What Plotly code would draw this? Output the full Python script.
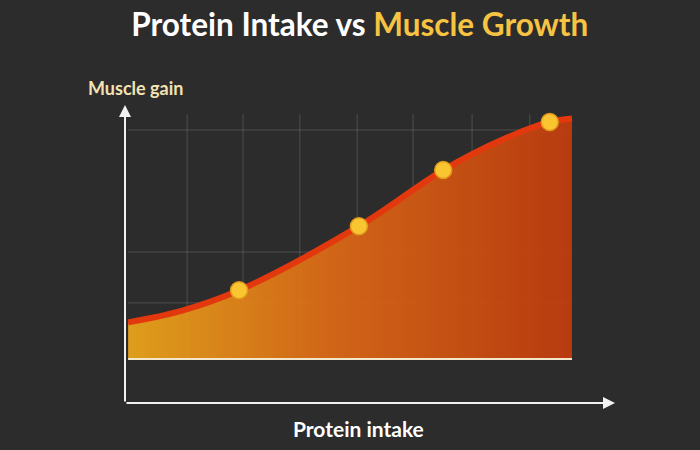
import plotly.graph_objects as go

# curve (x: protein intake, y: muscle gain, arbitrary units)
curve_x = [0, 12, 25, 52, 71, 84, 95, 100]
curve_y = [16, 21, 30, 58, 82.5, 95.5, 103.5, 105]

# highlighted points on the curve
point_x = [25, 52, 71, 95]
point_y = [30, 58, 82.5, 103.5]

# faint grid positions
grid_x = [13.3, 25.9, 38.7, 51.6, 64.2, 77.5, 90.5]
grid_y = [24.5, 46.7, 100]

x_range = [-0.7, 109.7]
y_range = [-19.2, 110.9]

BG = "#2c2c2c"
GRID = "rgba(255,255,255,0.16)"

fig = go.Figure()

# gradient area under the curve
fig.add_trace(go.Scatter(
    x=curve_x, y=curve_y, mode="lines", line=dict(width=0, shape="spline"),
    fill="tozeroy",
    fillgradient=dict(type="horizontal", colorscale=[
        [0.0, "rgba(235,166,26,0.93)"],
        [0.45, "rgba(221,106,22,0.93)"],
        [1.0, "rgba(194,60,13,0.93)"]]),
    hoverinfo="skip", showlegend=False,
))

# baseline under the fill
fig.add_trace(go.Scatter(
    x=[curve_x[0], curve_x[-1]], y=[0, 0], mode="lines",
    line=dict(color="#f4e6c8", width=2), hoverinfo="skip", showlegend=False,
))

# red curve
fig.add_trace(go.Scatter(
    x=curve_x, y=curve_y, mode="lines",
    line=dict(color="#e3380e", width=6, shape="spline"),
    hoverinfo="skip", showlegend=False,
))

# yellow dots
fig.add_trace(go.Scatter(
    x=point_x, y=point_y, mode="markers",
    marker=dict(size=17, color="#f9c632", line=dict(color="#e39a1b", width=1.5)),
    showlegend=False,
))

shapes = []
for gx in grid_x:
    shapes.append(dict(type="line", xref="x", yref="y", x0=gx, x1=gx, y0=0, y1=y_range[1] - 4,
                       line=dict(color=GRID, width=1), layer="below"))
for gy in grid_y:
    shapes.append(dict(type="line", xref="x", yref="y", x0=0, x1=curve_x[-1], y0=gy, y1=gy,
                       line=dict(color=GRID, width=1), layer="below"))


def px_to_paper(px, py):
    # plot area spans pixels 125..615 across and 105..403 down
    return (px - 125) / 490, (403 - py) / 298


mx, my = px_to_paper(86, 88)
tx, ty = px_to_paper(358, 428)

annotations = [
    # axes with arrow heads
    dict(x=x_range[1], y=y_range[0], ax=x_range[0], ay=y_range[0], xref="x", yref="y",
         axref="x", ayref="y", showarrow=True, arrowhead=2, arrowsize=1.2, arrowwidth=2,
         arrowcolor="#f2f2f2", text=""),
    dict(x=x_range[0], y=y_range[1], ax=x_range[0], ay=y_range[0], xref="x", yref="y",
         axref="x", ayref="y", showarrow=True, arrowhead=2, arrowsize=1.2, arrowwidth=2,
         arrowcolor="#f2f2f2", text=""),
    dict(text="<b>Muscle gain</b>", x=mx, y=my, xref="paper", yref="paper",
         xanchor="left", yanchor="middle", showarrow=False,
         font=dict(family="Lato", size=18, color="#f3e2b4")),
    dict(text="<b>Protein intake</b>", x=tx, y=ty, xref="paper", yref="paper",
         xanchor="center", yanchor="middle", showarrow=False,
         font=dict(family="Lato", size=21, color="#ffffff")),
]

fig.update_layout(
    width=700, height=450,
    paper_bgcolor=BG, plot_bgcolor=BG,
    margin=dict(l=125, r=85, t=105, b=47),
    title=dict(
        text="<b>Protein Intake vs <span style='color:#f6c342'>Muscle Growth</span></b>",
        x=0.514, xanchor="center", y=0.945, yanchor="middle",
        font=dict(family="Lato", size=31.5, color="#ffffff"),
    ),
    xaxis=dict(range=x_range, visible=False, fixedrange=True),
    yaxis=dict(range=y_range, visible=False, fixedrange=True),
    shapes=shapes, annotations=annotations,
)

fig.write_html("out.html", config={"displayModeBar": False},
               post_script="document.body.style.margin='0';"
               "document.body.style.background='%s';" % BG)
